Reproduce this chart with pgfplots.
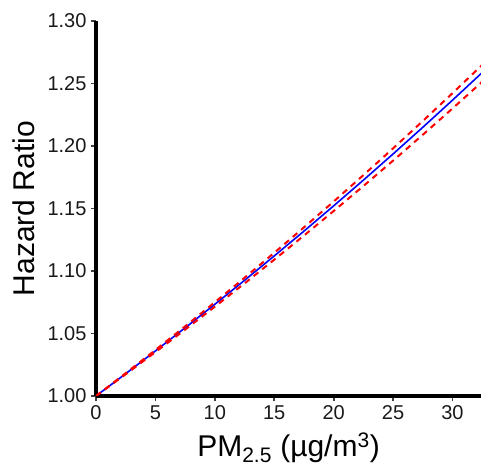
\documentclass[border=0pt]{standalone}
\usepackage{fontspec}
\setmainfont{Liberation Sans}
\usepackage{pgfplots}
\pgfplotsset{compat=1.18}

\begin{document}
\begin{tikzpicture}[x=1pt,y=1pt]
% fixed canvas around the axis box (385 x 375)
\path[use as bounding box] (-96,-74) rectangle (385,396);
\begin{axis}[
  anchor=south west, at={(0,0)},
  scale only axis, width=385pt, height=375pt,
  xmin=0, xmax=32.4, ymin=1, ymax=1.3,
  axis lines=left,
  axis line style={-, line width=3.5pt, black},
  xtick={0,5,...,30},
  ytick={1.00,1.05,...,1.30},
  yticklabel style={xshift=-1pt, /pgf/number format/fixed,
    /pgf/number format/fixed zerofill, /pgf/number format/precision=2},
  /pgf/number format/assume math mode=true,
  tick align=outside,
  major tick length=5pt,
  tick style={line width=1.8pt, black!75},
  tick label style={font=\fontsize{20}{20}\selectfont, text=black!90},
  xticklabel style={yshift=-1pt},
  xlabel={PM\textsubscript{2.5} (µg/m\textsuperscript{3})},
  ylabel={Hazard Ratio},
  label style={font=\fontsize{30}{30}\selectfont},
  xlabel style={yshift=-6pt},
  ylabel style={yshift=6pt},
  clip=true,
]
% pointwise estimate
\addplot[blue, line width=1.6pt] coordinates {
 (0,1.00000) (2.5,1.01786) (5,1.03603) (7.5,1.05454) (10,1.07337)
 (12.5,1.09253) (15,1.11204) (17.5,1.13190) (20,1.15211) (22.5,1.17268)
 (25,1.19363) (27.5,1.21495) (30,1.23665) (32.5,1.25873)};
% upper 95% bound
\addplot[red, line width=2pt, dash pattern=on 6pt off 5pt] coordinates {
 (0,1.00000) (2.5,1.01824) (5,1.03681) (7.5,1.05572) (10,1.07498)
 (12.5,1.09458) (15,1.11455) (17.5,1.13488) (20,1.15558) (22.5,1.17665)
 (25,1.19811) (27.5,1.21997) (30,1.24222) (32.5,1.26488)};
% lower 95% bound
\addplot[red, line width=2pt, dash pattern=on 6pt off 5pt] coordinates {
 (0,1.00000) (2.5,1.01740) (5,1.03510) (7.5,1.05311) (10,1.07144)
 (12.5,1.09008) (15,1.10905) (17.5,1.12835) (20,1.14798) (22.5,1.16796)
 (25,1.18828) (27.5,1.20896) (30,1.22999) (32.5,1.25139)};
\end{axis}
\end{tikzpicture}
\end{document}
